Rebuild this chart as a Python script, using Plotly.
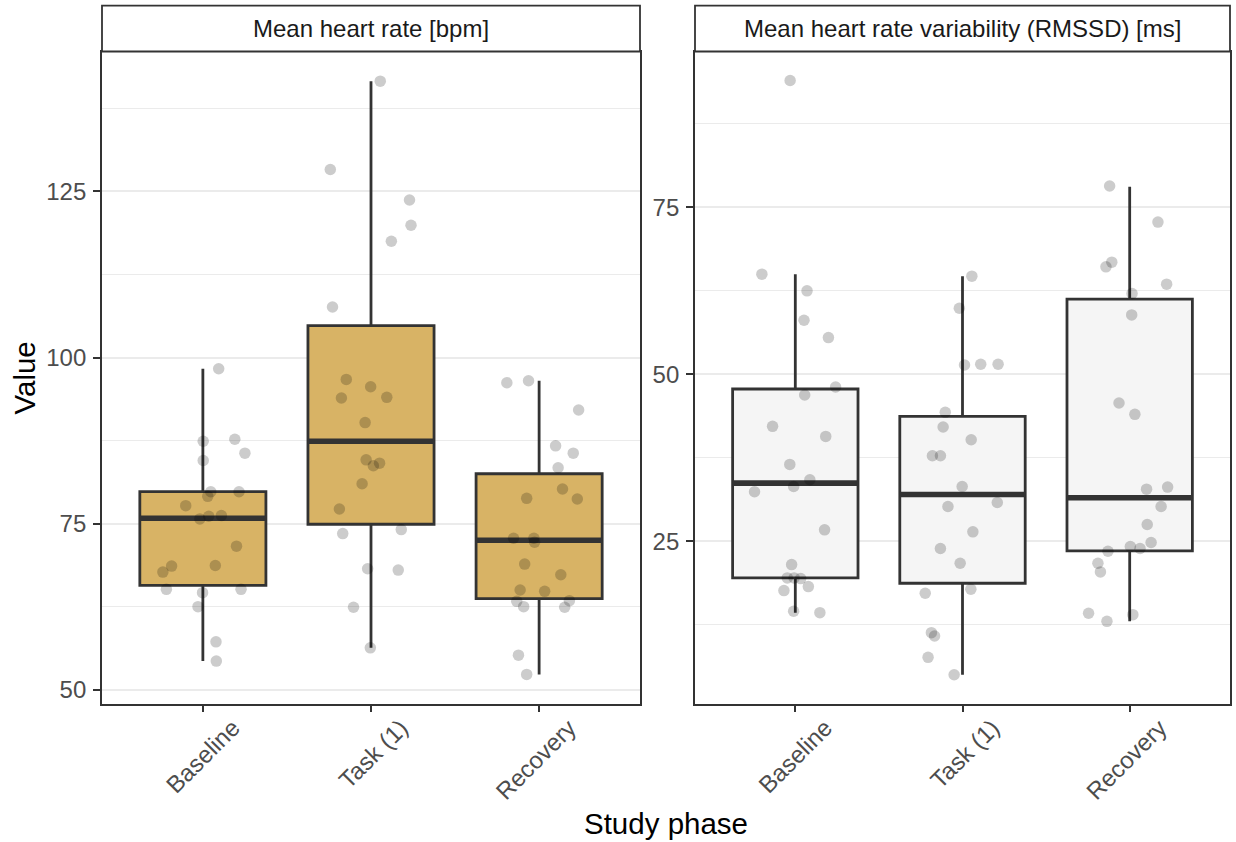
import plotly.graph_objects as go

# ---------------- data ----------------
categories = ["Baseline", "Task (1)", "Recovery"]
panel_titles = ["Mean heart rate [bpm]", "Mean heart rate variability (RMSSD) [ms]"]

# Mean heart rate (bpm) – individual values and horizontal jitter offsets
hr_baseline = [98.3, 87.4, 87.7, 85.6, 84.5, 79.8, 79.8, 79.1, 77.7, 75.7, 76.1,
               76.2, 71.6, 68.6, 67.7, 68.7, 65.1, 64.6, 65.1, 62.5, 57.2, 54.3]
hr_baseline_jit = [0.094, 0.002, 0.19, 0.25, 0.002, 0.047, 0.215, 0.029, -0.102, -0.018, 0.035,
                   0.11, 0.2, -0.186, -0.238, 0.074, -0.217, -0.002, 0.227, -0.029, 0.078, 0.08]
hr_task = [141.6, 128.3, 123.7, 119.9, 117.5, 107.6, 96.7, 95.6, 93.9, 94.0, 90.2,
           84.6, 84.1, 83.7, 81.0, 77.2, 73.5, 74.1, 68.2, 68.0, 62.4, 56.3]
hr_task_jit = [0.055, -0.242, 0.229, 0.238, 0.121, -0.229, -0.147, -0.002, -0.176, 0.094, -0.035,
               -0.029, 0.051, 0.014, -0.053, -0.188, -0.168, 0.18, -0.02, 0.162, -0.104, -0.004]
hr_recovery = [96.2, 96.5, 92.1, 86.7, 85.6, 83.4, 80.2, 78.8, 78.7, 72.8, 72.8,
               72.2, 68.9, 67.3, 65.0, 64.8, 63.3, 62.5, 63.4, 62.4, 55.2, 52.3]
hr_recovery_jit = [-0.192, -0.063, 0.235, 0.098, 0.203, 0.113, 0.139, -0.074, 0.227, -0.152, -0.031,
                   -0.027, -0.086, 0.129, -0.113, 0.033, -0.133, -0.092, 0.18, 0.152, -0.123, -0.074]

# Box statistics (heart rate)
hr_q1 = [65.7, 74.9, 63.7]
hr_median = [75.8, 87.4, 72.5]
hr_q3 = [79.8, 104.8, 82.5]
hr_lower = [54.3, 56.3, 52.3]
hr_upper = [98.3, 141.6, 96.5]

# RMSSD (ms)
hrv_baseline = [94.0, 65.0, 62.5, 58.1, 55.5, 48.1, 46.9, 42.2, 40.7, 36.5, 34.2,
                33.2, 32.4, 26.7, 21.5, 19.5, 19.5, 19.4, 17.6, 18.2, 14.5, 14.3]
hrv_baseline_jit = [-0.031, -0.2, 0.07, 0.052, 0.198, 0.241, 0.056, -0.136, 0.182, -0.033, 0.087,
                    -0.01, -0.244, 0.175, -0.022, -0.048, -0.007, 0.032, -0.068, 0.078, -0.01, 0.147]
hrv_task = [64.7, 59.9, 51.4, 51.5, 51.5, 44.3, 42.1, 40.2, 37.8, 37.8, 33.2,
            30.2, 30.8, 26.4, 23.9, 21.7, 17.2, 17.8, 11.3, 10.8, 7.6, 5.0]
hrv_task_jit = [0.056, -0.019, 0.012, 0.109, 0.213, -0.103, -0.116, 0.052, -0.18, -0.132, -0.002,
                -0.087, 0.208, 0.062, -0.132, -0.014, -0.223, 0.05, -0.186, -0.167, -0.206, -0.05]
hrv_recovery = [78.2, 72.8, 66.8, 66.1, 63.5, 62.1, 58.9, 45.7, 44.0, 32.8, 33.1,
                30.2, 27.5, 24.8, 23.5, 24.2, 23.9, 21.7, 20.4, 14.2, 13.0, 14.0]
hrv_recovery_jit = [-0.12, 0.169, -0.107, -0.142, 0.221, 0.014, 0.012, -0.064, 0.031, 0.101, 0.227,
                    0.188, 0.105, 0.128, -0.13, 0.004, 0.062, -0.19, -0.175, -0.246, -0.136, 0.019]

# Box statistics (RMSSD)
hrv_q1 = [19.5, 18.7, 23.55]
hrv_median = [33.7, 32.0, 31.5]
hrv_q3 = [47.8, 43.7, 61.25]
hrv_lower = [14.3, 5.0, 13.0]
hrv_upper = [65.0, 64.7, 78.1]

hr_ticks = [50, 75, 100, 125]
hr_minor = [62.5, 87.5, 112.5, 137.5]
hrv_ticks = [25, 50, 75]
hrv_minor = [12.5, 37.5, 62.5, 87.5]

# ---------------- style ----------------
W, H = 1236, 842
FONT = "Liberation Sans, Arial, Helvetica, sans-serif"
DARK = "#333333"
GRID = "#EBEBEB"
BOX_W = 0.75
HR_FILL = "#D8B365"
HRV_FILL = "#F5F5F5"
PT_COLOR = "rgba(0,0,0,0.2)"

panels_px = [(102, 640), (695, 1230)]
top_px, bot_px = 51.5, 703.5
strip_top_px = 5.7

def px_x(p):
    return p / W

def px_y(p):
    return 1 - p / H

pos = [1, 2, 3]

fig = go.Figure()

def add_panel(xa, ya, q1, med, q3, lo, hi, fill, groups):
    fig.add_trace(go.Box(
        x=pos, q1=q1, median=med, q3=q3, lowerfence=lo, upperfence=hi,
        width=BOX_W, whiskerwidth=0, fillcolor=fill,
        line=dict(color=DARK, width=2.8), boxpoints=False,
        xaxis=xa, yaxis=ya, showlegend=False, hoverinfo="skip"))
    mx, my = [], []
    for p, m in zip(pos, med):
        mx += [p - BOX_W / 2, p + BOX_W / 2, None]
        my += [m, m, None]
    fig.add_trace(go.Scatter(x=mx, y=my, mode="lines",
                             line=dict(color=DARK, width=5.6),
                             xaxis=xa, yaxis=ya, showlegend=False, hoverinfo="skip"))
    for p, (vals, jit) in zip(pos, groups):
        fig.add_trace(go.Scatter(
            x=[p + j for j in jit], y=vals, mode="markers",
            marker=dict(size=11.5, color=PT_COLOR, line=dict(width=0)),
            xaxis=xa, yaxis=ya, showlegend=False, hoverinfo="skip"))

add_panel("x", "y", hr_q1, hr_median, hr_q3, hr_lower, hr_upper, HR_FILL,
          [(hr_baseline, hr_baseline_jit), (hr_task, hr_task_jit),
           (hr_recovery, hr_recovery_jit)])
add_panel("x2", "y2", hrv_q1, hrv_median, hrv_q3, hrv_lower, hrv_upper, HRV_FILL,
          [(hrv_baseline, hrv_baseline_jit), (hrv_task, hrv_task_jit),
           (hrv_recovery, hrv_recovery_jit)])

def xaxis_cfg(dom, anchor):
    return dict(domain=dom, anchor=anchor, range=[0.4, 3.6],
                tickmode="array", tickvals=pos, ticktext=categories,
                tickangle=-45, ticks="outside", ticklen=7, tickwidth=2,
                tickcolor=DARK, showgrid=False, zeroline=False,
                showline=True, linecolor=DARK, linewidth=1.8, mirror=True,
                ticklabelshift=30, ticklabelstandoff=-8,
                tickfont=dict(family=FONT, size=24, color="#4D4D4D"))

def yaxis_cfg(dom, anchor, rng, ticks, minor):
    return dict(domain=dom, anchor=anchor, range=rng,
                tickmode="array", tickvals=ticks,
                ticks="outside", ticklen=7, tickwidth=2, tickcolor=DARK,
                showgrid=True, gridcolor=GRID, gridwidth=2,
                minor=dict(tickmode="array", tickvals=minor, showgrid=True,
                           gridcolor=GRID, gridwidth=1, ticks=""),
                zeroline=False, showline=True, linecolor=DARK, linewidth=1.8,
                mirror=True, ticklabelstandoff=2,
                tickfont=dict(family=FONT, size=24, color="#4D4D4D"))

ydom = [px_y(bot_px), px_y(top_px)]
fig.update_layout(
    width=W, height=H, margin=dict(l=0, r=0, t=0, b=0),
    paper_bgcolor="white", plot_bgcolor="white",
    font=dict(family=FONT),
    xaxis=xaxis_cfg([px_x(panels_px[0][0]), px_x(panels_px[0][1])], "y"),
    yaxis=yaxis_cfg(ydom, "x", [47.92, 146.06], hr_ticks, hr_minor),
    xaxis2=xaxis_cfg([px_x(panels_px[1][0]), px_x(panels_px[1][1])], "y2"),
    yaxis2=yaxis_cfg(ydom, "x2", [0.69, 98.35], hrv_ticks, hrv_minor),
)

shapes = []
annotations = []
for (x0, x1), title in zip(panels_px, panel_titles):
    shapes.append(dict(type="rect", xref="paper", yref="paper",
                       x0=px_x(x0), x1=px_x(x1), y0=px_y(top_px), y1=px_y(strip_top_px),
                       fillcolor="white", line=dict(color=DARK, width=1.8)))
    annotations.append(dict(text=title, xref="paper", yref="paper",
                            x=px_x((x0 + x1) / 2), y=px_y((top_px + strip_top_px) / 2),
                            xanchor="center", yanchor="middle", showarrow=False,
                            font=dict(family=FONT, size=24, color="#1A1A1A")))

annotations.append(dict(text="Value", xref="paper", yref="paper",
                        x=px_x(24), y=px_y((top_px + bot_px) / 2), textangle=-90,
                        xanchor="center", yanchor="middle", showarrow=False,
                        font=dict(family=FONT, size=29.5, color="black")))
annotations.append(dict(text="Study phase", xref="paper", yref="paper",
                        x=px_x((panels_px[0][0] + panels_px[1][1]) / 2), y=px_y(823),
                        xanchor="center", yanchor="middle", showarrow=False,
                        font=dict(family=FONT, size=29.5, color="black")))

fig.update_layout(shapes=shapes, annotations=annotations)

fig.write_html("out.html", config={"displayModeBar": False})

# remove the browser's default page margin so the figure fills the window exactly
with open("out.html", "r", encoding="utf-8") as f:
    html = f.read()
html = html.replace("<body>", '<body style="margin:0;padding:0;overflow:hidden;">', 1)
with open("out.html", "w", encoding="utf-8") as f:
    f.write(html)
